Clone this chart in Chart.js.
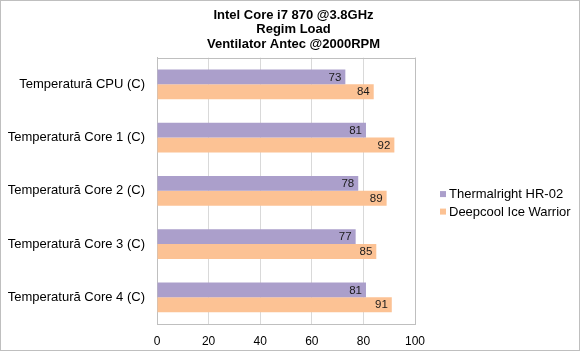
<!DOCTYPE html>
<html><head><meta charset="utf-8">
<script src="https://cdn.jsdelivr.net/npm/chart.js@4.4.0/dist/chart.umd.min.js"></script>
<style>
html,body{margin:0;padding:0;background:#fff;}
#wrap{position:absolute;left:0;top:0;width:578px;height:349px;border:1px solid #BFBFBF;}
canvas{display:block;}
</style></head>
<body>
<div id="wrap"><canvas id="c" width="578" height="349"></canvas></div>
<script>
const categories = ["Temperatură CPU (C)","Temperatură Core 1 (C)","Temperatură Core 2 (C)","Temperatură Core 3 (C)","Temperatură Core 4 (C)"];
const thermalright = [73, 81, 78, 77, 81];
const deepcool = [84, 92, 89, 85, 91];
const seriesNames = ["Thermalright HR-02","Deepcool Ice Warrior"];
const titleLines = ["Intel Core i7 870 @3.8GHz","Regim Load","Ventilator Antec @2000RPM"];
const xTicks = [0,20,40,60,80,100];

const FONT = '"Liberation Sans", Arial, sans-serif';

const valueLabels = {
  id:'valueLabels',
  afterDatasetsDraw(chart){
    const ctx = chart.ctx;
    ctx.save();
    ctx.font = '11.5px ' + FONT;
    ctx.fillStyle = '#1a1a1a';
    ctx.textAlign = 'right';
    ctx.textBaseline = 'middle';
    chart.data.datasets.forEach((ds,i)=>{
      const meta = chart.getDatasetMeta(i);
      meta.data.forEach((el,j)=>{
        ctx.fillText(String(ds.data[j]), el.x - 4, el.y + 0.5);
      });
    });
    ctx.restore();
  }
};

const sideLegend = {
  id:'sideLegend',
  afterDraw(chart){
    const ctx = chart.ctx, a = chart.chartArea;
    ctx.save();
    ctx.font = '13px ' + FONT;
    ctx.textBaseline = 'middle';
    ctx.textAlign = 'left';
    const x0 = a.right + 25;
    const yMid = (a.top + a.bottom)/2 + 12;
    const rowH = 17.5;
    chart.data.datasets.forEach((ds,i)=>{
      const y = yMid - rowH/2 + i*rowH;
      ctx.fillStyle = ds.backgroundColor;
      ctx.fillRect(x0, y-3, 6, 6);
      ctx.fillStyle = '#000';
      ctx.fillText(ds.label, x0 + 9, y + 0.5);
    });
    ctx.strokeStyle='#BFBFBF'; ctx.lineWidth=1;
    ctx.beginPath(); ctx.moveTo(Math.round(a.right)+0.5,a.top); ctx.lineTo(Math.round(a.right)+0.5,a.bottom); ctx.stroke();
    ctx.beginPath(); ctx.moveTo(a.left,Math.round(a.top)+0.5); ctx.lineTo(a.right,Math.round(a.top)+0.5); ctx.stroke();
    ctx.restore();
  }
};

new Chart(document.getElementById('c'), {
  type:'bar',
  data:{
    labels:categories,
    datasets:[
      {label:seriesNames[0], data:thermalright, backgroundColor:'#AB9FCB', borderWidth:0, categoryPercentage:0.56, barPercentage:1.0},
      {label:seriesNames[1], data:deepcool, backgroundColor:'#FCC294', borderWidth:0, categoryPercentage:0.56, barPercentage:1.0}
    ]
  },
  options:{
    indexAxis:'y',
    responsive:false,
    animation:false,
    layout:{padding:{left:7,right:0,top:0,bottom:1}},
    scales:{
      x:{
        min:0,max:100,
        afterBuildTicks(axis){ axis.ticks = xTicks.map(v=>({value:v})); },
        afterFit(axis){ axis.height = 25; },
        grid:{color:'#D9D9D9', drawTicks:false},
        border:{color:'#BFBFBF'},
        ticks:{color:'#000', font:{family:FONT, size:12}, padding:10, maxRotation:0}
      },
      y:{
        afterFit(axis){ axis.width = 149; },
        grid:{display:false, drawTicks:false},
        border:{color:'#BFBFBF'},
        ticks:{color:'#000', font:{family:FONT, size:13}, padding:12}
      },
      legendSpace:{
        type:'linear', axis:'y', position:'right', display:true,
        afterFit(axis){ axis.width = 164; },
        grid:{display:false, drawTicks:false},
        border:{display:false},
        ticks:{display:false}
      }
    },
    plugins:{
      title:{display:true, text:titleLines, color:'#000', font:{family:FONT, size:13, weight:'bold', lineHeight:1.12}, padding:{top:7,bottom:6}},
      legend:{display:false},
      tooltip:{enabled:false}
    }
  },
  plugins:[valueLabels, sideLegend]
});
</script>
</body></html>
